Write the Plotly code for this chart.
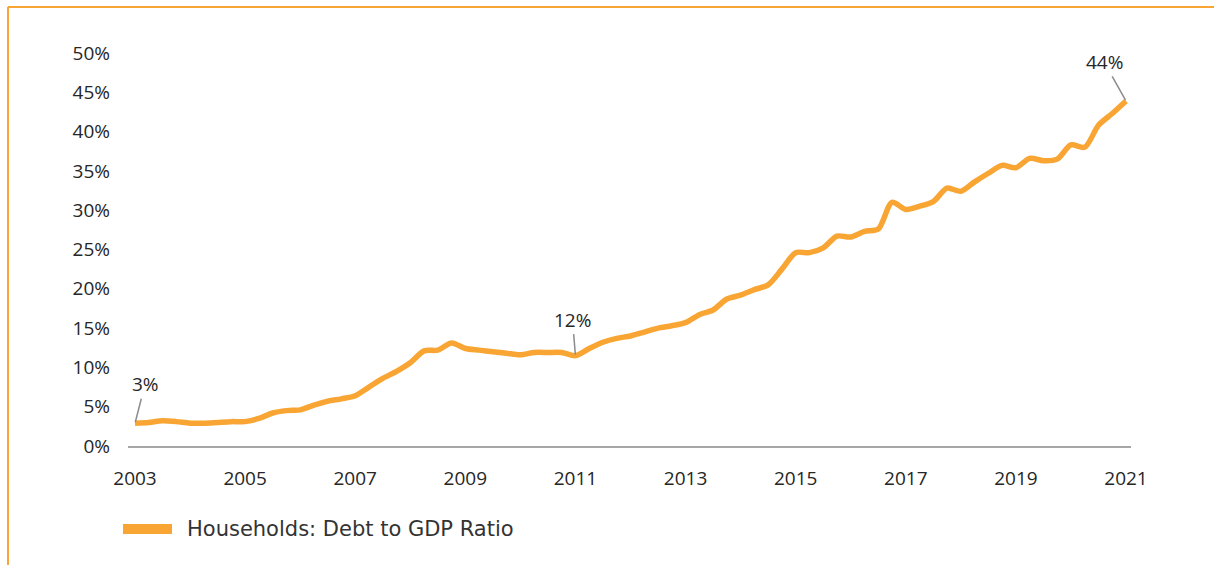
import plotly.graph_objects as go

# Household debt-to-GDP ratio, quarterly, 2003 Q1 – 2021 Q1 (percent)
start_year = 2003
ratio = [
    2.9, 3.0, 3.2, 3.1, 2.9, 2.9, 3.0, 3.1,
    3.1, 3.5, 4.2, 4.5, 4.6, 5.2, 5.7, 6.0,
    6.4, 7.5, 8.6, 9.5, 10.6, 12.1, 12.2, 13.1,
    12.4, 12.2, 12.0, 11.8, 11.6, 11.9, 11.9, 11.9,
    11.5, 12.4, 13.2, 13.7, 14.0, 14.5, 15.0, 15.3,
    15.7, 16.7, 17.3, 18.7, 19.2, 19.9, 20.5, 22.5,
    24.6, 24.6, 25.2, 26.7, 26.6, 27.3, 27.6, 31.0,
    30.1, 30.5, 31.1, 32.8, 32.4, 33.6, 34.7, 35.7,
    35.4, 36.6, 36.3, 36.5, 38.3, 38.0, 40.8, 42.3,
    43.9,
]
periods = [start_year + i / 4 for i in range(len(ratio))]

x_ticks = list(range(2003, 2022, 2))
y_ticks = list(range(0, 51, 5))
y_tick_text = [f"{v}%" for v in y_ticks]

series_name = "Households: Debt to GDP Ratio"
labelled = [(0, "3%"), (32, "12%"), (72, "44%")]
label_offsets = {0: (10, -39), 32: (-3, -36), 72: (-22, -39)}

ORANGE = "#F9A533"
TEXT = "#262626"
W, H = 1214, 565
L, R, T, B = 128, 83, 53, 119
pw, ph = W - L - R, H - T - B


def px_to_paper(x, y):
    return (x - L) / pw, (H - B - y) / ph


fig = go.Figure()
fig.add_trace(go.Scatter(
    x=periods, y=ratio, mode="lines", name=series_name,
    line=dict(color=ORANGE, width=5.5, shape="spline", smoothing=0.8),
    showlegend=False, hoverinfo="skip",
))

for idx, txt in labelled:
    ax, ay = label_offsets[idx]
    fig.add_annotation(
        x=periods[idx], y=ratio[idx], text=txt, showarrow=True,
        arrowhead=0, arrowwidth=1.5, arrowcolor="#8C8C8C",
        ax=ax, ay=ay, standoff=1,
        font=dict(family="Open Sans", size=19, color=TEXT),
    )

# frame lines along the top and left edges
x0, y0 = px_to_paper(8, 7)
x1, _ = px_to_paper(W + 5, 7)
_, y_bot = px_to_paper(8, H + 5)
fig.add_shape(type="line", xref="paper", yref="paper", x0=x0, x1=x1, y0=y0, y1=y0,
              line=dict(color=ORANGE, width=2))
fig.add_shape(type="line", xref="paper", yref="paper", x0=x0, x1=x0, y0=y0, y1=y_bot,
              line=dict(color=ORANGE, width=2))

# legend: swatch and label
lx0, ly0 = px_to_paper(123, 524)
lx1, ly1 = px_to_paper(172, 534)
fig.add_shape(type="rect", xref="paper", yref="paper", x0=lx0, x1=lx1, y0=ly1, y1=ly0,
              fillcolor=ORANGE, line=dict(width=0))
tx, ty = px_to_paper(185, 529)
fig.add_annotation(xref="paper", yref="paper", x=tx, y=ty, text=series_name,
                   showarrow=False, xanchor="left", yanchor="middle",
                   font=dict(family="DejaVu Sans", size=21, color="#333333"))

fig.update_layout(
    width=W, height=H,
    margin=dict(l=L, r=R, t=T, b=B),
    paper_bgcolor="white", plot_bgcolor="white",
    showlegend=False,
    font=dict(family="Open Sans", size=19, color=TEXT),
    xaxis=dict(
        range=[2003 - 7 / 55, 2021 + 5 / 55],
        tickvals=x_ticks, ticktext=[str(v) for v in x_ticks],
        showgrid=False, zeroline=False, showline=True,
        linecolor="#A6A6A6", linewidth=1.5, ticks="",
        ticklabelstandoff=14,
    ),
    yaxis=dict(
        range=[0, 50], tickvals=y_ticks, ticktext=y_tick_text,
        showgrid=False, zeroline=False, showline=False, ticks="",
        ticklabelstandoff=17,
    ),
)

fig.write_html("out.html")
